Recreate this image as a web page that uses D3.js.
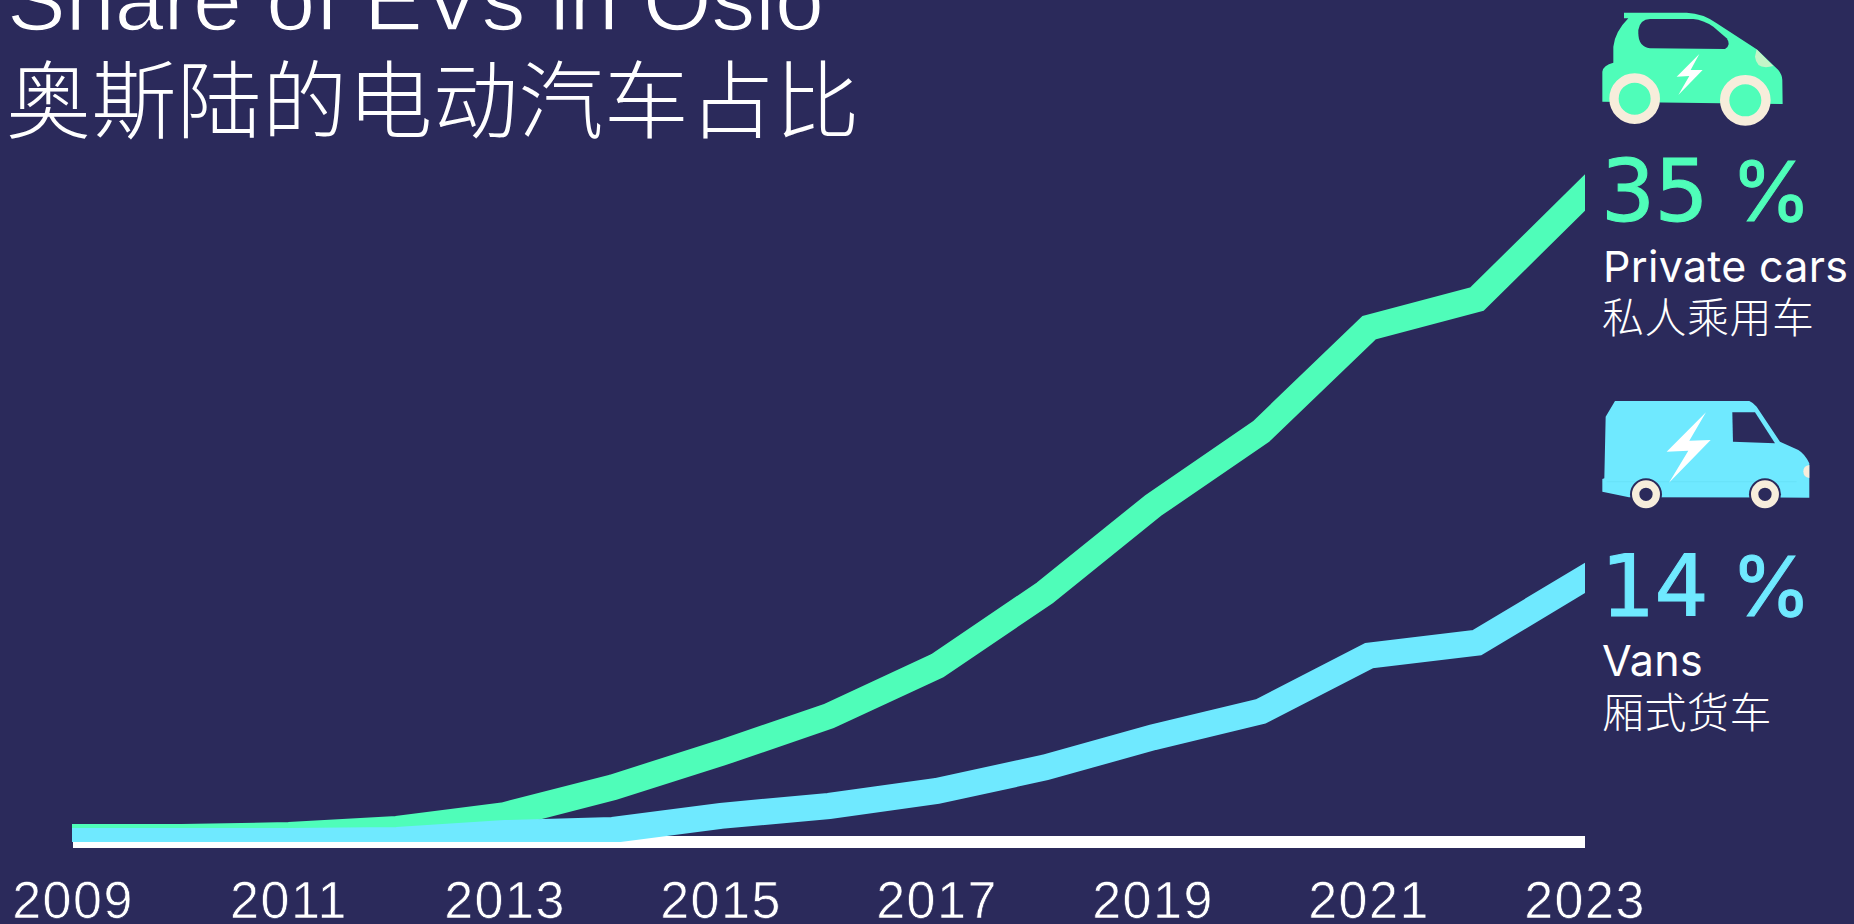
<!DOCTYPE html>
<html lang="en">
<head>
<meta charset="utf-8">
<script src="https://cdn.jsdelivr.net/npm/d3@7"></script>
<style>
html,body{margin:0;padding:0;background:#2b2a5b;overflow:hidden}
svg{display:block}
</style>
</head>
<body>
<svg id="chart" width="1854" height="924"></svg>
<script>
const years = [2009,2010,2011,2012,2013,2014,2015,2016,2017,2018,2019,2020,2021,2022,2023];
const tickYears = [2009,2011,2013,2015,2017,2019,2021,2023];
const privateCars = [0.22,0.22,0.32,0.65,1.4,2.9,4.75,6.75,9.45,13.4,18.1,22.1,27.7,29.25,35];
const vans = [0,0,0,0.05,0.43,0.6,1.36,1.89,2.7,3.97,5.6,7.0,10.0,10.7,14.2];
const titleEn = "Share of EVs in Oslo";
const titleZh = "奥斯陆的电动汽车占比";

const BG="#2b2a5b", GREEN="#4ffdb9", BLUE="#6fe9ff", CREAM="#f7eddb", WHITE="#ffffff";
const LATIN="'Liberation Sans',Arial,sans-serif", CJK="'Noto Sans CJK SC',sans-serif", LABEL="Inter,sans-serif";

const svg=d3.select("#chart");
svg.append("rect").attr("width",1854).attr("height",924).attr("fill",BG);

const x=d3.scaleLinear().domain([2009,2023]).range([73,1585]);
const y=d3.scaleLinear().domain([0,35]).range([841,192.5]);

svg.append("defs").append("clipPath").attr("id","plot").append("rect")
  .attr("x",72).attr("y",0).attr("width",1513).attr("height",842);

const axis=d3.axisBottom(x).tickValues(tickYears).tickFormat(d3.format("d"))
  .tickSize(0).tickPadding(39).offset(0);
const ax=svg.append("g").attr("transform","translate(0,842)").call(axis);
ax.select(".domain").attr("stroke",WHITE).attr("stroke-width",12);
ax.selectAll("text").attr("fill",WHITE).attr("font-family",LATIN).attr("font-size",52)
  .attr("letter-spacing",1.5).attr("stroke",BG).attr("stroke-width",0.7).attr("paint-order","fill");

const line=d3.line().x((d,i)=>x(years[i])).y(d=>y(d)).curve(d3.curveLinear);
const plot=svg.append("g").attr("clip-path","url(#plot)");
[[privateCars,GREEN],[vans,BLUE]].forEach(([s,c])=>{
  plot.append("path").datum(s).attr("d",line).attr("fill","none")
    .attr("stroke",c).attr("stroke-width",26).attr("stroke-linejoin","miter")
    .attr("stroke-linecap","square");
});

const txt=(t,px,py,size,fam,fill,extra={})=>{
  const e=svg.append("text").attr("x",px).attr("y",py).attr("font-size",size)
    .attr("font-family",fam).attr("fill",fill).text(t);
  Object.entries(extra).forEach(([k,v])=>e.attr(k,v));
  return e;
};
txt(titleEn,7,30,88,LATIN,WHITE,{stroke:BG,"stroke-width":1.5,"paint-order":"fill"});
txt(titleZh,6,132,85,CJK,WHITE,{"font-weight":300,"letter-spacing":0.4});

const value=(num,py,c)=>{
  const e=svg.append("text").attr("x",1601).attr("y",py).attr("fill",c)
    .attr("stroke",c).attr("stroke-width",1);
  e.append("tspan").attr("font-family","'DejaVu Sans',sans-serif").attr("font-size",85).attr("letter-spacing",-0.5).text(num);
  e.append("tspan").attr("font-family",LABEL).attr("font-size",82).attr("x",1731).text("%");
};
value("35",221,GREEN);
value("14",616,BLUE);

txt("Private cars",1603,282,43,LABEL,WHITE,{"font-weight":400,"letter-spacing":0.3});
txt("私人乘用车",1602,333,42,CJK,WHITE,{"font-weight":300,"letter-spacing":0.5});
txt("Vans",1602,676,43,LABEL,WHITE,{"font-weight":400,"letter-spacing":0.3});
txt("厢式货车",1602,728,42,CJK,WHITE,{"font-weight":300,"letter-spacing":0.5});

// Car icon
const car=svg.append("g").attr("transform","translate(1560,0) scale(0.3333)");
car.append("path").attr("fill",GREEN).attr("d","M127 305L127 215Q130 195 160 188L160 140Q165 95 205 55L192 55L192 38L380 38Q430 40 470 70L590 148L655 210Q667 225 667 240L668 312Z");
car.append("path").attr("fill",BG).attr("d","M235 90Q240 58 270 57L400 57Q430 60 460 80L500 115Q515 135 495 147L270 145Q235 140 235 100Z");
car.append("path").attr("fill","#c5f5c8").attr("d","M590 148L640 198Q590 212 585 170Z");
car.append("path").attr("fill",WHITE).attr("d","M418 162L350 230L388 228L355 285L428 210L392 210Z");
[[224,296],[556,301]].forEach(([cx,cy])=>{
  car.append("circle").attr("cx",cx).attr("cy",cy).attr("r",62).attr("fill",GREEN).attr("stroke",CREAM).attr("stroke-width",28);
});

// Van icon
const van=svg.append("g").attr("transform","translate(1560,380) scale(0.3333)");
van.append("path").attr("fill",BLUE).attr("d","M165 63L568 63Q580 68 590 80L660 185L715 210Q735 222 748 250L748 353L207 352L127 335L127 297L133 295L137 110Z");
van.append("path").attr("fill","none").attr("stroke","#62dcf0").attr("stroke-width",1.5).attr("d","M140 305H710");
van.append("path").attr("fill",BG).attr("d","M517 97L585 97L645 190L519 185Z");
van.append("path").attr("fill",WHITE).attr("d","M438 97L320 215L385 212L327 308L452 180L388 182Z");
van.append("path").attr("fill",CREAM).attr("d","M748 255Q730 258 730 274Q730 292 748 294Z");
[[258,343],[615,343]].forEach(([cx,cy])=>{
  van.append("circle").attr("cx",cx).attr("cy",cy).attr("r",48).attr("fill",BG);
  van.append("circle").attr("cx",cx).attr("cy",cy).attr("r",31).attr("fill",BG).attr("stroke",CREAM).attr("stroke-width",22);
});
</script>
</body>
</html>
